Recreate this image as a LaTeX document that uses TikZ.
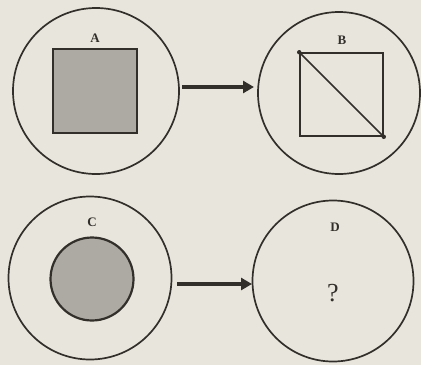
\documentclass[tikz,border=0pt]{standalone}
\usepackage{fontspec}
\setmainfont{Liberation Serif}
\usetikzlibrary{arrows.meta}
\definecolor{paper}{RGB}{232,230,220}
\definecolor{shade}{RGB}{172,170,162}
\definecolor{ink}{RGB}{50,47,43}
\tikzset{
  ring/.style={circle, draw=ink, line width=1.7pt, inner sep=0pt},
  lbl/.style={inner sep=0pt, text=ink, font=\fontsize{13}{13}\selectfont\bfseries},
  arr/.style={draw=ink, line width=3.6pt, -{Triangle[length=11pt,width=12pt]}},
}
\begin{document}
\begin{tikzpicture}[x=1pt,y=-1pt]
\useasboundingbox[fill=paper] (0,0) rectangle (421,365);
% top left
\node[ring, minimum size=166pt] (cA) at (96,91) {};
\node[draw=ink, line width=1.9pt, fill=shade, minimum size=84pt, inner sep=0pt] (sA) at (95,91) {};
\node[lbl] (lA) at (95,38) {A};
% top right
\node[ring, minimum size=162pt] (cB) at (339,93) {};
\node[draw=ink, line width=1.6pt, minimum size=83pt, inner sep=0pt] (sB) at (341.5,94.5) {};
\node[lbl] (lB) at (342,40) {B};
\draw[ink, line width=1.6pt] (sB.north west) -- (sB.south east);
\fill[ink] (sB.north west) circle (2.2pt);
\fill[ink] (sB.south east) circle (2.2pt);
% bottom left
\node[ring, minimum size=163pt] (cC) at (90,278) {};
\node[circle, draw=ink, line width=2.2pt, fill=shade, minimum size=83pt, inner sep=0pt] (iC) at (92,279) {};
\node[lbl] (lC) at (92,222) {C};
% bottom right
\node[ring, minimum size=161pt] (cD) at (333,281) {};
\node[lbl] (lD) at (335,227) {D};
\node[inner sep=0pt, text=ink, font=\fontsize{26}{26}\selectfont] (q) at (333,293) {?};
% arrows
\coordinate (a1) at (182,87);
\coordinate (a2) at (254,87);
\coordinate (b1) at (177,284);
\coordinate (b2) at (252,284);
\draw[arr] (a1) -- (a2);
\draw[arr] (b1) -- (b2);
\end{tikzpicture}
\end{document}
